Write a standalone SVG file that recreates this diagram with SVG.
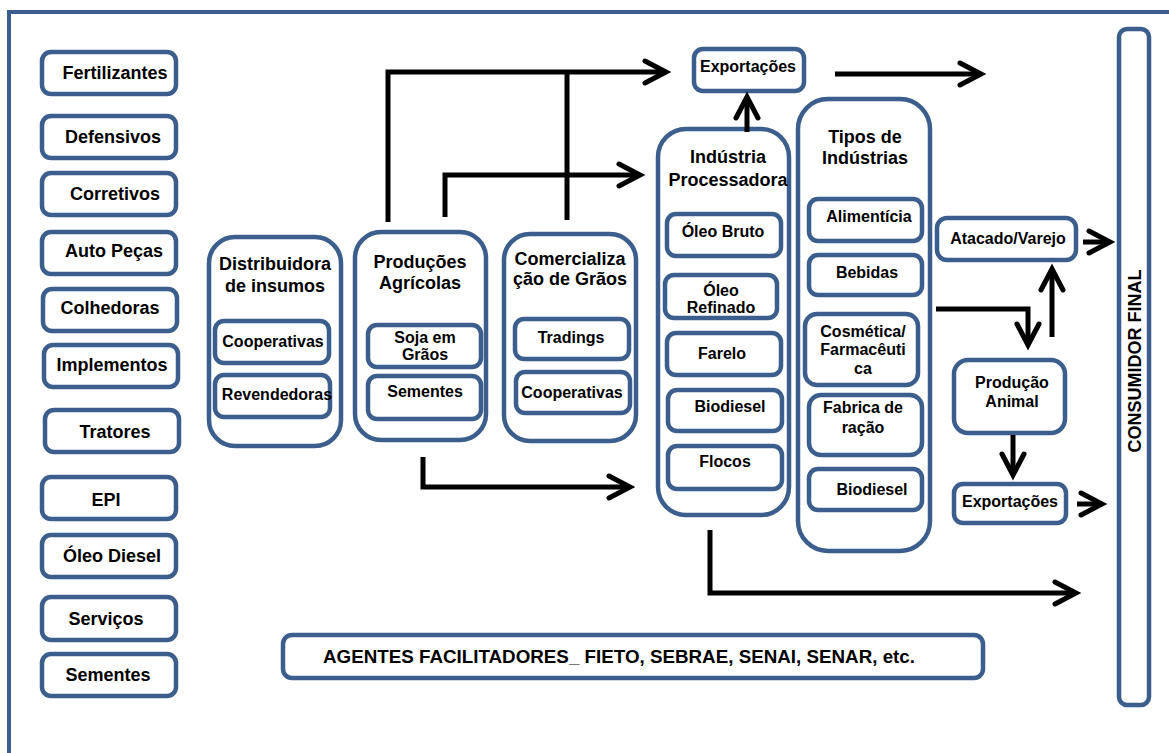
<svg xmlns="http://www.w3.org/2000/svg" width="1169" height="753" viewBox="0 0 1169 753">
<style>
.b{fill:#fff;stroke:#3B5E8C;stroke-width:4.5}
.t{font-family:"Liberation Sans",Arial,sans-serif;font-weight:bold;fill:#000;text-anchor:middle}
.l{font-size:18px}
.s{font-size:16px}
.c{fill:none;stroke:#000;stroke-width:5}
</style>
<defs>
<marker id="ah" markerUnits="userSpaceOnUse" viewBox="-30 -16 34 32" refX="0" refY="0" markerWidth="34" markerHeight="32" orient="auto" overflow="visible">
<path d="M-21,-11 L0,0 L-21,11" fill="none" stroke="#000" stroke-width="5" stroke-linecap="round"/>
</marker>
</defs>
<rect x="0" y="0" width="1169" height="753" fill="#fff"/>
<rect x="9" y="12" width="1200" height="800" fill="none" stroke="#3B5E8C" stroke-width="4"/>

<g id="fertilizantes"><rect class="b" x="42" y="52" width="134" height="42" rx="9"/><text class="t l" x="115" y="79">Fertilizantes</text></g>
<g id="defensivos"><rect class="b" x="42" y="116" width="134" height="42" rx="9"/><text class="t l" x="113" y="143">Defensivos</text></g>
<g id="corretivos"><rect class="b" x="42" y="173" width="134" height="42" rx="9"/><text class="t l" x="115" y="200">Corretivos</text></g>
<g id="autopecas"><rect class="b" x="42" y="232" width="134" height="42" rx="9"/><text class="t l" x="114" y="257">Auto Peças</text></g>
<g id="colhedoras"><rect class="b" x="43" y="289" width="134" height="42" rx="9"/><text class="t l" x="110" y="314">Colhedoras</text></g>
<g id="implementos"><rect class="b" x="44" y="345" width="134" height="42" rx="9"/><text class="t l" x="112" y="371">Implementos</text></g>
<g id="tratores"><rect class="b" x="45" y="410" width="134" height="42" rx="9"/><text class="t l" x="115" y="438">Tratores</text></g>
<g id="epi"><rect class="b" x="42" y="477" width="134" height="42" rx="9"/><text class="t l" x="106" y="506">EPI</text></g>
<g id="oleodiesel"><rect class="b" x="42" y="535" width="134" height="42" rx="9"/><text class="t l" x="112" y="562">Óleo Diesel</text></g>
<g id="servicos"><rect class="b" x="42" y="597" width="134" height="43" rx="9"/><text class="t l" x="106" y="625">Serviços</text></g>
<g id="sementes"><rect class="b" x="42" y="654" width="134" height="42" rx="9"/><text class="t l" x="108" y="681">Sementes</text></g>

<g id="distribuidora">
<rect class="b" x="209" y="237" width="132" height="209" rx="26"/>
<text class="t l" x="275" y="270">Distribuidora</text>
<text class="t l" x="275" y="292">de insumos</text>
<rect class="b" x="215" y="321" width="114" height="42" rx="9"/><text class="t s" x="273" y="347">Cooperativas</text>
<rect class="b" x="215" y="375" width="115" height="42" rx="9"/><text class="t s" x="277" y="400">Revendedoras</text>
</g>

<g id="producoes">
<rect class="b" x="355" y="232" width="131" height="208" rx="26"/>
<text class="t l" x="420" y="268">Produções</text>
<text class="t l" x="420" y="289">Agrícolas</text>
<rect class="b" x="368" y="325" width="113" height="42" rx="9"/><text class="t s" x="425" y="343">Soja em</text><text class="t s" x="425" y="360">Grãos</text>
<rect class="b" x="368" y="376" width="113" height="43" rx="9"/><text class="t s" x="425" y="397">Sementes</text>
</g>

<g id="comercializacao">
<rect class="b" x="504" y="234" width="132" height="207" rx="26"/>
<text class="t l" x="570" y="265">Comercializa</text>
<text class="t l" x="570" y="285">ção de Grãos</text>
<rect class="b" x="515" y="319" width="114" height="40" rx="9"/><text class="t s" x="571" y="343">Tradings</text>
<rect class="b" x="516" y="372" width="114" height="41" rx="9"/><text class="t s" x="572" y="398">Cooperativas</text>
</g>

<g id="exportacoes1"><rect class="b" x="694" y="49" width="110" height="42" rx="9"/><text class="t s" x="748" y="72">Exportações</text></g>

<g id="industria">
<rect class="b" x="658" y="129" width="131" height="386" rx="28"/>
<text class="t l" x="728" y="163">Indústria</text>
<text class="t l" x="728" y="186">Processadora</text>
<rect class="b" x="667" y="214" width="114" height="42" rx="9"/><text class="t s" x="723" y="237">Óleo Bruto</text>
<rect class="b" x="665" y="275" width="112" height="43" rx="9"/><text class="t s" x="721" y="296">Óleo</text><text class="t s" x="721" y="313">Refinado</text>
<rect class="b" x="667" y="333" width="114" height="42" rx="9"/><text class="t s" x="722" y="359">Farelo</text>
<rect class="b" x="668" y="390" width="114" height="41" rx="9"/><text class="t s" x="730" y="412">Biodiesel</text>
<rect class="b" x="668" y="446" width="114" height="43" rx="9"/><text class="t s" x="725" y="467">Flocos</text>
</g>

<g id="tipos">
<rect class="b" x="798" y="99" width="132" height="452" rx="30"/>
<text class="t l" x="865" y="143">Tipos de</text>
<text class="t l" x="865" y="164">Indústrias</text>
<rect class="b" x="809" y="199" width="113" height="42" rx="9"/><text class="t s" x="869" y="222">Alimentícia</text>
<rect class="b" x="809" y="255" width="113" height="40" rx="9"/><text class="t s" x="867" y="278">Bebidas</text>
<rect class="b" x="805" y="314" width="113" height="71" rx="12"/><text class="t s" x="863" y="337">Cosmética/</text><text class="t s" x="863" y="355">Farmacêuti</text><text class="t s" x="863" y="374">ca</text>
<rect class="b" x="809" y="395" width="113" height="60" rx="12"/><text class="t s" x="863" y="413">Fabrica de</text><text class="t s" x="863" y="433">ração</text>
<rect class="b" x="809" y="469" width="113" height="41" rx="9"/><text class="t s" x="872" y="495">Biodiesel</text>
</g>

<g id="atacado"><rect class="b" x="937" y="218" width="139" height="42" rx="10"/><text class="t s" x="1008" y="244">Atacado/Varejo</text></g>
<g id="producaoanimal"><rect class="b" x="954" y="360" width="111" height="73" rx="14"/><text class="t s" x="1012" y="388">Produção</text><text class="t s" x="1012" y="407">Animal</text></g>
<g id="exportacoes2"><rect class="b" x="954" y="484" width="112" height="39" rx="9"/><text class="t s" x="1010" y="507">Exportações</text></g>

<g id="consumidor"><rect class="b" x="1119" y="29" width="30" height="676" rx="8"/><text class="t l" transform="translate(1141,361) rotate(-90)" x="0" y="0">CONSUMIDOR FINAL</text></g>

<g id="agentes"><rect class="b" x="283" y="635" width="700" height="43" rx="9"/><text class="t l" x="619" y="663" textLength="592" lengthAdjust="spacingAndGlyphs">AGENTES FACILITADORES_ FIETO, SEBRAE, SENAI, SENAR, etc.</text></g>

<g id="connectors">
<path class="c" d="M388,222 V72 H666" marker-end="url(#ah)"/>
<path class="c" d="M567,220 V72"/>
<path class="c" d="M445,217 V175 H640" marker-end="url(#ah)"/>
<path class="c" d="M747,132 V97" marker-end="url(#ah)"/>
<path class="c" d="M835,74 H981" marker-end="url(#ah)"/>
<path class="c" d="M423,457 V487 H630" marker-end="url(#ah)"/>
<path class="c" d="M710,530 V593 H1076" marker-end="url(#ah)"/>
<path class="c" d="M1083,242 H1110" marker-end="url(#ah)"/>
<path class="c" d="M936,309 H1028 V345" marker-end="url(#ah)"/>
<path class="c" d="M1052,337 V269" marker-end="url(#ah)"/>
<path class="c" d="M1013,435 V475" marker-end="url(#ah)"/>
<path class="c" d="M1077,504 H1102" marker-end="url(#ah)"/>
</g>
</svg>
